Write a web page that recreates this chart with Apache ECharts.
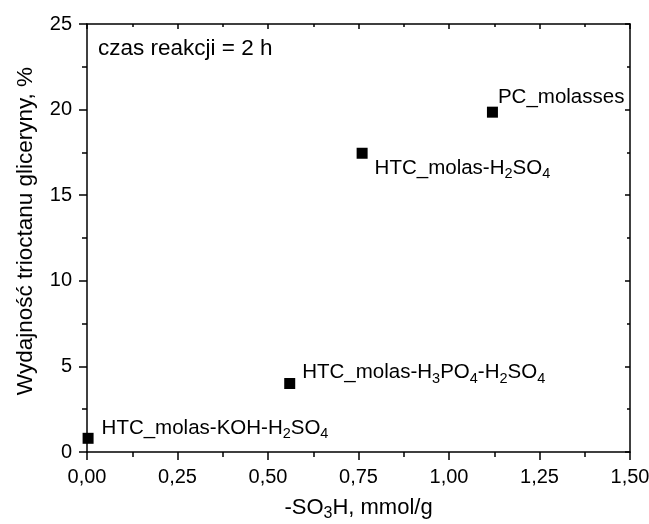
<!DOCTYPE html>
<html>
<head>
<meta charset="utf-8">
<script src="https://cdn.jsdelivr.net/npm/echarts@6/dist/echarts.min.js"></script>
<style>
  html, body { margin: 0; padding: 0; background: #fff; }
  #chart { width: 649px; height: 524px; }
</style>
</head>
<body>
<div id="chart"></div>
<script>
// Catalyst samples: acid-site density vs. glycerol triacetate yield
const sampleNames = ['HTC_molas-KOH-H2SO4', 'HTC_molas-H3PO4-H2SO4', 'HTC_molas-H2SO4', 'PC_molasses'];
const sulfonicGroups = [0.003, 0.56, 0.76, 1.12];   // -SO3H, mmol/g
const triacetinYield = [0.8, 4.0, 17.45, 19.85];     // %
const xTicks = [0, 0.25, 0.5, 0.75, 1.0, 1.25, 1.5];
const yTicks = [0, 5, 10, 15, 20, 25];

// Rich-text labels with chemical subscripts
const richLabels = [
  '{a|HTC_molas-KOH-H}{s|2}{a|SO}{s|4}',
  '{a|HTC_molas-H}{s|3}{a|PO}{s|4}{a|-H}{s|2}{a|SO}{s|4}',
  '{a|HTC_molas-H}{s|2}{a|SO}{s|4}',
  '{a|PC_molasses}'
];
const labelOffsets = [[8, -10], [7, -11], [7, 15], [0, -15]];

const FONT = '"Liberation Sans", Arial, sans-serif';
function richStyle(size, subSize) {
  return {
    a: { fontFamily: FONT, fontSize: size, color: '#000', lineHeight: 24 },
    s: { fontFamily: FONT, fontSize: subSize, color: '#000', height: 12, verticalAlign: 'bottom' }
  };
}
const labelRich = richStyle(20.5, 14.5);
const titleRich = richStyle(22, 16);

const points = sulfonicGroups.map((x, i) => ({
  value: [x, triacetinYield[i]],
  label: {
    show: true,
    position: 'right',
    distance: 0,
    offset: labelOffsets[i],
    formatter: richLabels[i],
    rich: labelRich
  }
}));

const axisLineStyle = { color: '#000', width: 1.5 };
const tickStyle = { color: '#000', width: 1.5 };
const fmtComma = v => v.toFixed(2).replace('.', ',');
const tickFont = { fontFamily: FONT, fontSize: 20, color: '#000' };

const chart = echarts.init(document.getElementById('chart'), null, { renderer: 'canvas' });
chart.setOption({
  animation: false,
  backgroundColor: '#fff',
  grid: { left: 87, right: 19, top: 24, bottom: 72, containLabel: false, outerBoundsMode: 'none' },
  xAxis: [
    {
      type: 'value', min: 0, max: 1.5, interval: 0.25,
      name: '{a|-SO}{s|3}{a|H, mmol/g}',
      nameLocation: 'middle', nameGap: 44,
      nameTextStyle: { rich: titleRich },
      axisLine: { show: true, onZero: false, lineStyle: axisLineStyle },
      axisTick: { show: true, inside: false, length: 8, lineStyle: tickStyle },
      minorTick: { show: true, splitNumber: 2, length: 5, lineStyle: tickStyle },
      axisLabel: Object.assign({ formatter: fmtComma, margin: 15 }, tickFont),
      splitLine: { show: false }
    },
    {
      type: 'value', position: 'top', min: 0, max: 1.5, interval: 0.25,
      axisLine: { show: true, onZero: false, lineStyle: axisLineStyle },
      axisTick: { show: true, inside: true, length: 5, lineStyle: tickStyle },
      minorTick: { show: true, splitNumber: 2, length: 3, lineStyle: tickStyle },
      axisLabel: { show: false },
      splitLine: { show: false }
    }
  ],
  yAxis: [
    {
      type: 'value', min: 0, max: 25, interval: 5,
      name: 'Wydajność trioctanu gliceryny, %',
      nameLocation: 'middle', nameGap: 50, nameRotate: 90,
      nameTextStyle: { fontFamily: FONT, fontSize: 22.5, color: '#000', padding: [0, 0, 0, 14] },
      axisLine: { show: true, onZero: false, lineStyle: axisLineStyle },
      axisTick: { show: true, inside: false, length: 8, lineStyle: tickStyle },
      minorTick: { show: true, splitNumber: 2, length: 5, lineStyle: tickStyle },
      axisLabel: Object.assign({ margin: 15 }, tickFont),
      splitLine: { show: false }
    },
    {
      type: 'value', position: 'right', min: 0, max: 25, interval: 5,
      axisLine: { show: true, onZero: false, lineStyle: axisLineStyle },
      axisTick: { show: true, inside: true, length: 5, lineStyle: tickStyle },
      minorTick: { show: true, splitNumber: 2, length: 3, lineStyle: tickStyle },
      axisLabel: { show: false },
      splitLine: { show: false }
    }
  ],
  graphic: [{
    type: 'text', left: 98, top: 37,
    style: { text: 'czas reakcji = 2 h', fontFamily: FONT, fontSize: 22.5, fill: '#000' }
  }],
  series: [{
    type: 'scatter',
    xAxisIndex: 0, yAxisIndex: 0,
    symbol: 'rect', symbolSize: 11,
    itemStyle: { color: '#000', opacity: 1 },
    data: points
  }]
});
</script>
</body>
</html>
